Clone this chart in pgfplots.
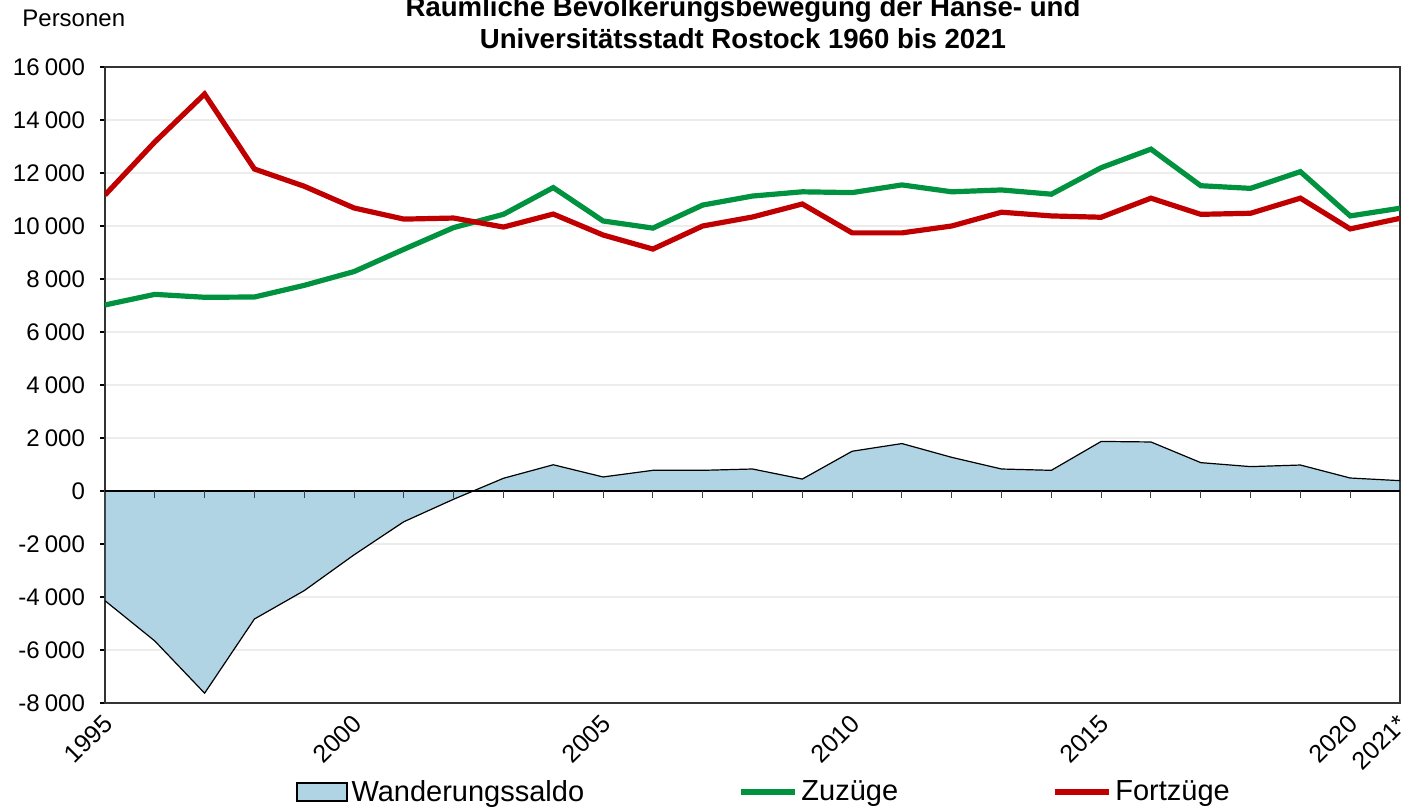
\documentclass[border=0pt]{standalone}
\usepackage{fontspec}
\setmainfont{Liberation Sans}
\usepackage{pgfplots}
\usepackage{pgfplotstable}
\pgfplotsset{compat=1.18}
\definecolor{cgreen}{RGB}{0,146,63}
\definecolor{cred}{RGB}{192,0,0}
\definecolor{csaldo}{RGB}{176,212,227}
\definecolor{cgrid}{RGB}{236,236,236}

\pgfplotstableread{
year saldo zuz fort
1995 -4140 7020 11170
1996 -5660 7420 13170
1997 -7630 7310 14980
1998 -4830 7320 12150
1999 -3760 7760 11500
2000 -2410 8280 10680
2001 -1160 9120 10260
2002 -310 9940 10300
2003 480 10440 9960
2004 990 11450 10450
2005 530 10190 9660
2006 780 9920 9130
2007 780 10790 10000
2008 830 11130 10340
2009 450 11290 10830
2010 1500 11260 9740
2011 1790 11550 9740
2012 1270 11290 10000
2013 830 11360 10520
2014 780 11200 10380
2015 1870 12200 10330
2016 1850 12900 11050
2017 1070 11520 10440
2018 920 11420 10480
2019 980 12050 11050
2020 490 10380 9890
2021 390 10670 10290
}\datatable

\begin{document}
\begin{tikzpicture}
\begin{axis}[
  scale only axis, width=647.5pt, height=318pt,
  xmin=1995, xmax=2021, ymin=-8000, ymax=16000,
  ytick={-8000,-6000,...,16000},
  scaled y ticks=false,
  xtick={1995,2000,2005,2010,2015,2020,2021},
  xticklabels={1995,2000,2005,2010,2015,2020,2021*},
  x tick label style={rotate=45, anchor=east, font=\fontsize{12.5}{14}\selectfont, yshift=-5pt, xshift=0.5pt},
  y tick label style={font=\fontsize{12}{14}\selectfont, xshift=-4pt},
  /pgf/number format/.cd, assume math mode=true, 1000 sep={\hspace{0.22em}},
  /pgfplots/.cd,
  ymajorgrids, grid style={cgrid, line width=0.6pt},
  tick align=outside, ytick pos=left, xtick pos=bottom,
  major tick length=2.5pt,
  xtick style={draw=none}, ytick style={black, line width=0.6pt},
  axis line style={black!80, line width=0.8pt},
  legend columns=3,
  legend cell align=left,
  legend style={draw=none, fill=none, at={(0.5097,-0.14)}, anchor=center,
    font=\fontsize{14.5}{17}\selectfont,
    /tikz/every even column/.append style={column sep=75pt}},
]
\addplot[fill=csaldo, draw=black, line width=0.6pt,
  legend image code/.code={\draw[fill=csaldo, draw=black, line width=0.6pt] (0pt,-4.5pt) rectangle (25pt,4.5pt);}]
  table[x=year, y=saldo] {\datatable} \closedcycle;
\addlegendentry{Wanderungssaldo}
\draw[black, line width=1pt] (axis cs:1995,0) -- (axis cs:2021,0);
\pgfplotsinvokeforeach{1996,...,2020}{\draw[black!75, line width=0.5pt] (axis cs:#1,0) -- ++(0pt,-3.5pt);}
\addplot[cgreen, line width=2.6pt,
  legend image code/.code={\draw[cgreen, line width=2.6pt] (0pt,0pt) -- (27pt,0pt);}]
  table[x=year, y=zuz] {\datatable};
\addlegendentry{Zuzüge}
\addplot[cred, line width=2.6pt,
  legend image code/.code={\draw[cred, line width=2.6pt] (0pt,0pt) -- (27pt,0pt);}]
  table[x=year, y=fort] {\datatable};
\addlegendentry{Fortzüge}
\end{axis}
\node[anchor=base, font=\bfseries\fontsize{13.8}{16}\selectfont] at (319pt,343pt) {Räumliche Bevölkerungsbewegung der Hanse- und};
\node[anchor=base, font=\bfseries\fontsize{13.8}{16}\selectfont] at (319pt,327pt) {Universitätsstadt Rostock 1960 bis 2021};
\node[anchor=base west, inner sep=0pt, font=\fontsize{12}{14}\selectfont] at (-41.5pt,338pt) {Personen};
\pgfresetboundingbox
\path[use as bounding box] (-52.5pt,-52.5pt) rectangle (650.5pt,351.5pt);
\end{tikzpicture}
\end{document}
